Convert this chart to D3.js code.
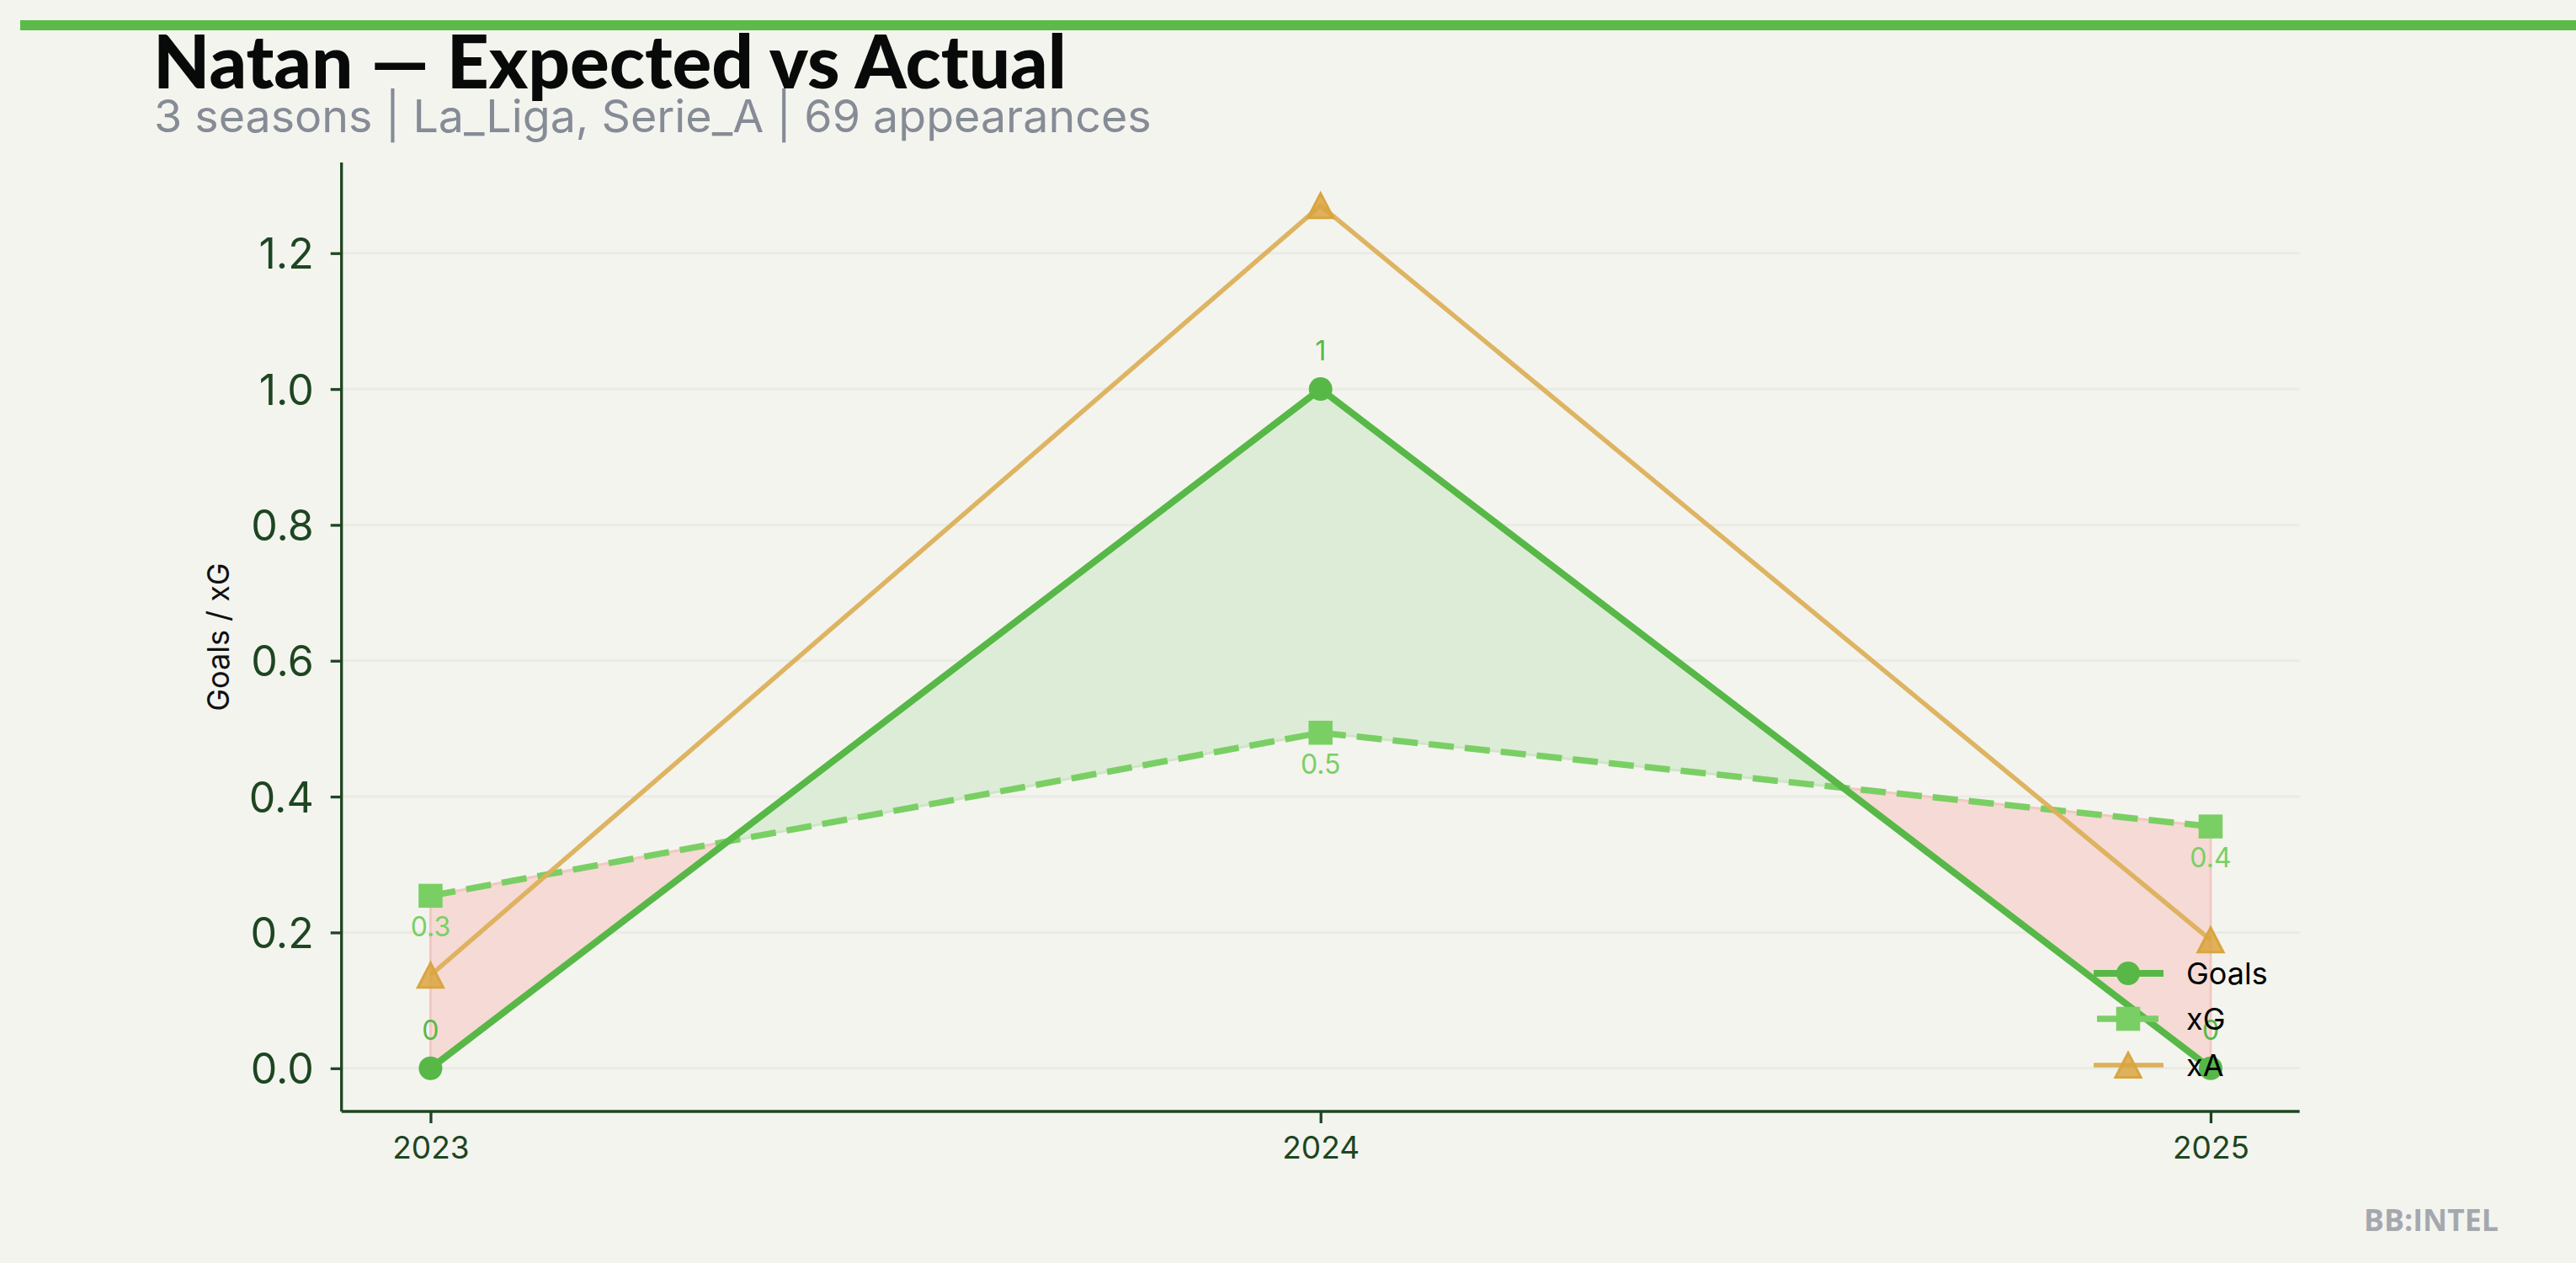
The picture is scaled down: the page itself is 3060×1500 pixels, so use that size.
<!DOCTYPE html>
<html>
<head>
<meta charset="utf-8">
<script src="https://cdn.jsdelivr.net/npm/d3@7"></script>
<style>
  html, body { margin: 0; padding: 0; background: #f4f4ef; }
  svg { display: block; }
</style>
</head>
<body>
<svg id="chart" width="3060" height="1500"></svg>
<script>
// ---- data ----
const seasons = [2023, 2024, 2025];
const goals = [0, 1, 0];
const xG = [0.254, 0.494, 0.356];
const xA = [0.137, 1.27, 0.189];
const seriesNames = ["Goals", "xG", "xA"];
const yTicks = [0.0, 0.2, 0.4, 0.6, 0.8, 1.0, 1.2];
const titleText = "Natan \u2014 Expected vs Actual";
const subtitleText = "3 seasons | La_Liga, Serie_A | 69 appearances";
const yLabelText = "Goals / xG";
const brandText = "BB:INTEL";

// ---- style ----
const C = {
  bg: "#f4f4ef",
  goals: "#57b847",
  xg: "#7acf64",
  xa: "#dcb05a",
  xaMark: "#d9a540",
  axis: "#1d4621",
  grid: "#ebebe5",
  posFill: "#ddecd7",
  negFill: "#f6dad5",
  negEdge: "#f1c8c2",
  posEdge: "#cfe5c8",
  sub: "#868c96",
  brand: "#a5a8ae"
};
const FONT = "Inter, 'Noto Sans', sans-serif";

const svg = d3.select("#chart");
svg.append("rect").attr("width", 3060).attr("height", 1500).attr("fill", C.bg);

// plot area
const L = 405.7, R = 2731.7, T = 193, B = 1320;

const xPad = 0.05 * (d3.max(seasons) - d3.min(seasons));
const x = d3.scaleLinear()
  .domain([d3.min(seasons) - xPad, d3.max(seasons) + xPad])
  .range([L, R]);
const allVals = goals.concat(xG, xA);
const yMin = d3.min(allVals), yMax = d3.max(allVals);
const yPad = 0.05 * (yMax - yMin);
const y = d3.scaleLinear().domain([yMin - yPad, yMax + yPad]).range([B, T]);

function fit(sel, target) {
  const n = sel.node();
  const fs = parseFloat(sel.attr("font-size"));
  const w = n.getComputedTextLength();
  if (w > 0) sel.attr("font-size", fs * target / w);
}

// top bar
svg.append("rect").attr("x", 24).attr("y", 24).attr("width", 3036).attr("height", 12).attr("fill", "#5cba4b");

// title + subtitle
const title = svg.append("text").text(titleText)
  .attr("x", 182).attr("y", 105)
  .attr("font-family", "Lato, 'DejaVu Sans', sans-serif").attr("font-weight", 900)
  .attr("font-size", 80).attr("fill", "#070a08");
fit(title, 1085);
const sub = svg.append("text").text(subtitleText)
  .attr("x", 183).attr("y", 157)
  .attr("font-family", FONT).attr("font-size", 50).attr("fill", C.sub);
fit(sub, 1185);

// grid
svg.append("g").selectAll("line").data(yTicks).join("line")
  .attr("x1", L).attr("x2", R)
  .attr("y1", d => y(d)).attr("y2", d => y(d))
  .attr("stroke", C.grid).attr("stroke-width", 3);

// fill between goals and xG with crossings
const pts = [];
for (let i = 0; i < seasons.length; i++) {
  pts.push({ s: seasons[i], g: goals[i], e: xG[i] });
  if (i < seasons.length - 1) {
    const d0 = goals[i] - xG[i], d1 = goals[i + 1] - xG[i + 1];
    if (d0 * d1 < 0) {
      const t = d0 / (d0 - d1);
      const s = seasons[i] + t * (seasons[i + 1] - seasons[i]);
      const v = goals[i] + t * (goals[i + 1] - goals[i]);
      pts.push({ s: s, g: v, e: v });
    }
  }
}
const eps = 1e-9;
const areaPos = d3.area().defined(d => d.g >= d.e - eps)
  .x(d => x(d.s)).y0(d => y(d.e)).y1(d => y(d.g));
const areaNeg = d3.area().defined(d => d.g <= d.e + eps)
  .x(d => x(d.s)).y0(d => y(d.e)).y1(d => y(d.g));
svg.append("path").attr("d", areaPos(pts)).attr("fill", C.posFill)
  .attr("stroke", C.posEdge).attr("stroke-width", 3);
svg.append("path").attr("d", areaNeg(pts)).attr("fill", C.negFill)
  .attr("stroke", C.negEdge).attr("stroke-width", 3);

// axes
const yAxis = d3.axisLeft(y).tickValues(yTicks).tickFormat(d3.format(".1f")).tickSize(13).tickPadding(20);
const gy = svg.append("g").attr("transform", `translate(${L},0)`).call(yAxis);
gy.select(".domain").attr("d", `M0,${T}V${B}`);
const xAxis = d3.axisBottom(x).tickValues(seasons).tickFormat(d3.format("d")).tickSize(14).tickPadding(14);
const gx = svg.append("g").attr("transform", `translate(0,${B})`).call(xAxis);
gx.select(".domain").attr("d", `M${L},0H${R}`);
[gx, gy].forEach(g => {
  g.selectAll(".domain").attr("stroke", C.axis).attr("stroke-width", 3.3);
  g.selectAll(".tick line").attr("stroke", C.axis).attr("stroke-width", 3.3);
  g.selectAll(".tick text").attr("fill", C.axis).attr("font-family", FONT);
});
gy.selectAll(".tick text").attr("font-size", 50).attr("dy", "0.36em");
gx.selectAll(".tick text").attr("font-size", 37).attr("dy", "0.75em");

// y label
svg.append("text").text(yLabelText)
  .attr("transform", `translate(272,${(T + B) / 2}) rotate(-90)`)
  .attr("text-anchor", "middle")
  .attr("font-family", FONT).attr("font-size", 36).attr("fill", "#111");

// lines
const line = d3.line().x(d => x(d[0])).y(d => y(d[1]));
const zip = arr => seasons.map((s, i) => [s, arr[i]]);

svg.append("path").attr("d", line(zip(xG))).attr("fill", "none")
  .attr("stroke", C.xg).attr("stroke-width", 7.5).attr("stroke-dasharray", "30,13");
svg.append("path").attr("d", line(zip(goals))).attr("fill", "none")
  .attr("stroke", C.goals).attr("stroke-width", 8);
svg.append("path").attr("d", line(zip(xA))).attr("fill", "none")
  .attr("stroke", C.xa).attr("stroke-width", 5.5).attr("stroke-opacity", 0.95);

// markers
const sym = {
  circle: d3.symbol().type(d3.symbolCircle).size(Math.PI * 14 * 14),
  square: d3.symbol().type(d3.symbolSquare).size(28.5 * 28.5)
};
function triPath(cx, cy, h) {
  // matplotlib-style triangle centered on bbox
  const hw = h * 0.52;
  return `M${cx},${cy - h / 2}L${cx + hw},${cy + h / 2}L${cx - hw},${cy + h / 2}Z`;
}
svg.append("g").selectAll("path").data(zip(xG)).join("path")
  .attr("d", sym.square()).attr("transform", d => `translate(${x(d[0])},${y(d[1])})`)
  .attr("fill", C.xg);
svg.append("g").selectAll("path").data(zip(xA)).join("path")
  .attr("d", d => triPath(x(d[0]), y(d[1]), 29))
  .attr("fill", C.xaMark).attr("fill-opacity", 0.85)
  .attr("stroke", C.xaMark).attr("stroke-width", 3).attr("stroke-linejoin", "miter");
svg.append("g").selectAll("path").data(zip(goals)).join("path")
  .attr("d", sym.circle()).attr("transform", d => `translate(${x(d[0])},${y(d[1])})`)
  .attr("fill", C.goals);

// value labels
const fmt = v => String(+v.toFixed(1));
svg.append("g").selectAll("text").data(zip(goals)).join("text")
  .attr("x", d => x(d[0])).attr("y", d => y(d[1]) - 34)
  .attr("text-anchor", "middle").attr("font-family", FONT).attr("font-size", 32)
  .attr("fill", C.goals).text(d => fmt(d[1]));
svg.append("g").selectAll("text").data(zip(xG)).join("text")
  .attr("x", d => x(d[0])).attr("y", d => y(d[1]) + 48.5)
  .attr("text-anchor", "middle").attr("font-family", FONT).attr("font-size", 32)
  .attr("fill", C.xg).text(d => fmt(d[1]));

// legend
const leg = svg.append("g");
const rows = [1156, 1210, 1265];
const x0 = 2487, x1 = 2570, xm = 2528;
seriesNames.forEach((name, i) => {
  const ry = rows[i];
  if (name === "Goals") {
    leg.append("line").attr("x1", x0).attr("x2", x1).attr("y1", ry).attr("y2", ry)
      .attr("stroke", C.goals).attr("stroke-width", 8);
    leg.append("path").attr("d", sym.circle()).attr("transform", `translate(${xm},${ry})`).attr("fill", C.goals);
  } else if (name === "xG") {
    leg.append("line").attr("x1", x0 + 4).attr("x2", x1 - 4).attr("y1", ry).attr("y2", ry)
      .attr("stroke", C.xg).attr("stroke-width", 7.5).attr("stroke-dasharray", "30,13");
    leg.append("path").attr("d", sym.square()).attr("transform", `translate(${xm},${ry})`).attr("fill", C.xg);
  } else {
    leg.append("line").attr("x1", x0).attr("x2", x1).attr("y1", ry).attr("y2", ry)
      .attr("stroke", C.xa).attr("stroke-width", 5.5);
    leg.append("path").attr("d", triPath(xm, ry, 29))
      .attr("fill", C.xaMark).attr("fill-opacity", 0.85)
      .attr("stroke", C.xaMark).attr("stroke-width", 3);
  }
  leg.append("text").text(name).attr("x", 2597).attr("y", ry + 13)
    .attr("font-family", FONT).attr("font-size", 36).attr("fill", "#000");
});

// brand
const brand = svg.append("text").text(brandText)
  .attr("x", 2808).attr("y", 1462)
  .attr("font-family", "'Open Sans', 'DejaVu Sans', sans-serif").attr("font-weight", 700)
  .attr("font-size", 38).attr("fill", C.brand);
fit(brand, 160);
</script>
</body>
</html>
